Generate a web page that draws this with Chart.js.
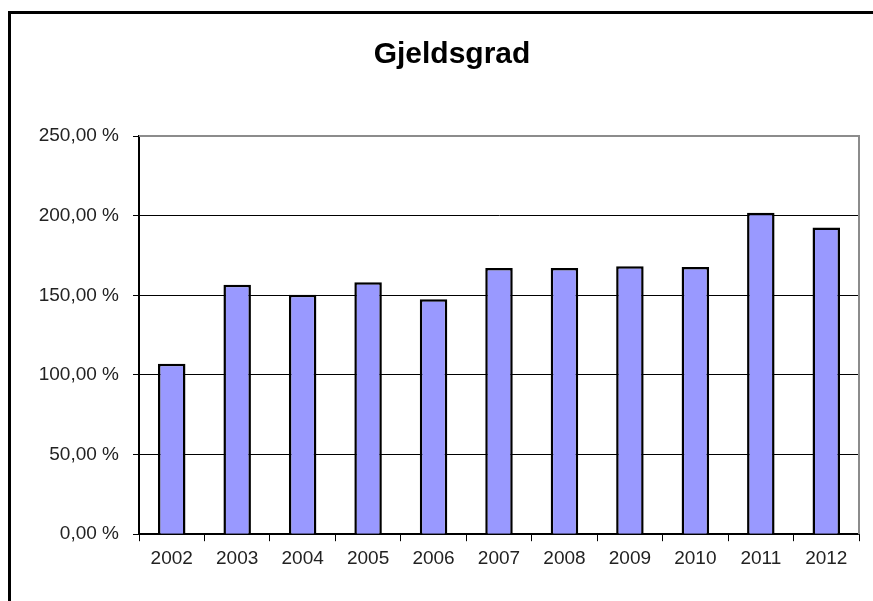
<!DOCTYPE html>
<html>
<head>
<meta charset="utf-8">
<script src="https://cdn.jsdelivr.net/npm/chart.js@4.4.1/dist/chart.umd.min.js"></script>
<style>
  body { margin: 0; background: #fff; }
  #wrap { position: relative; width: 873px; height: 601px; overflow: hidden; }
  #frame {
    position: absolute; left: 8px; top: 11px; width: 900px; height: 620px;
    border-left: 3px solid #000; border-top: 3px solid #000;
  }
  canvas { position: absolute; left: 0; top: 0; }
</style>
</head>
<body>
<div id="wrap">
  <div id="frame"></div>
  <canvas id="chart" width="904" height="601"></canvas>
</div>
<script>
// chart data
const years = ["2002", "2003", "2004", "2005", "2006", "2007", "2008", "2009", "2010", "2011", "2012"];
const debtRatio = [107.0, 156.6, 150.4, 158.2, 147.5, 167.1, 167.1, 168.3, 167.7, 201.8, 192.6];
const yTicks = [0, 50, 100, 150, 200, 250];

const fontFamily = "'Liberation Sans', Arial, sans-serif";

// gray plot-area border on top and right (Excel style)
const plotFrame = {
  id: "plotFrame",
  beforeDatasetsDraw(chart) {
    const a = chart.chartArea;
    const ctx = chart.ctx;
    ctx.save();
    ctx.strokeStyle = "#8c8c8c";
    ctx.lineWidth = 2;
    ctx.beginPath();
    ctx.moveTo(a.left, a.top);
    ctx.lineTo(a.right, a.top);
    ctx.lineTo(a.right, a.bottom);
    ctx.stroke();
    ctx.restore();
  },
};

new Chart(document.getElementById("chart"), {
  type: "bar",
  data: {
    labels: years,
    datasets: [
      {
        label: "Gjeldsgrad",
        data: debtRatio,
        backgroundColor: "#9999ff",
        borderColor: "#000",
        borderWidth: 2.5,
        barPercentage: 0.42,
        categoryPercentage: 1,
      },
    ],
  },
  plugins: [plotFrame],
  options: {
    responsive: false,
    animation: false,
    layout: {
      padding: { left: 0, right: 0, top: 0, bottom: 25 },
    },
    plugins: {
      legend: { display: false },
      tooltip: { enabled: false },
      title: {
        display: true,
        text: "Gjeldsgrad",
        color: "#000",
        font: { family: fontFamily, size: 30, weight: "bold" },
        padding: { top: 37, bottom: 63 },
      },
    },
    scales: {
      x: {
        grid: {
          offset: true,
          drawOnChartArea: false,
          drawTicks: true,
          tickLength: 7,
          color: "#000",
        },
        border: { color: "#000", width: 2 },
        ticks: {
          color: "#222",
          padding: 6,
          font: { family: fontFamily, size: 19 },
        },
      },
      y: {
        min: 0,
        max: 250,
        afterBuildTicks: (scale) => {
          scale.ticks = yTicks.map((v) => ({ value: v }));
        },
        afterFit: (scale) => {
          scale.width = 139;
        },
        grid: {
          color: (ctx) => (ctx.tick && ctx.tick.value === 250 ? "rgba(0,0,0,0)" : "#000"),
          tickColor: "#000",
          tickLength: 6,
          lineWidth: 1,
        },
        border: { color: "#000", width: 2 },
        ticks: {
          color: "#222",
          padding: 14,
          font: { family: fontFamily, size: 19 },
          callback: (v) => v.toFixed(2).replace(".", ",") + " %",
        },
      },
      // empty spacer on the right so the title centres like the original
      spacer: {
        type: "linear",
        position: "right",
        grid: { drawOnChartArea: false, drawTicks: false },
        border: { display: false },
        ticks: { display: false },
        afterFit: (scale) => {
          scale.width = 45;
        },
      },
    },
  },
});
</script>
</body>
</html>
